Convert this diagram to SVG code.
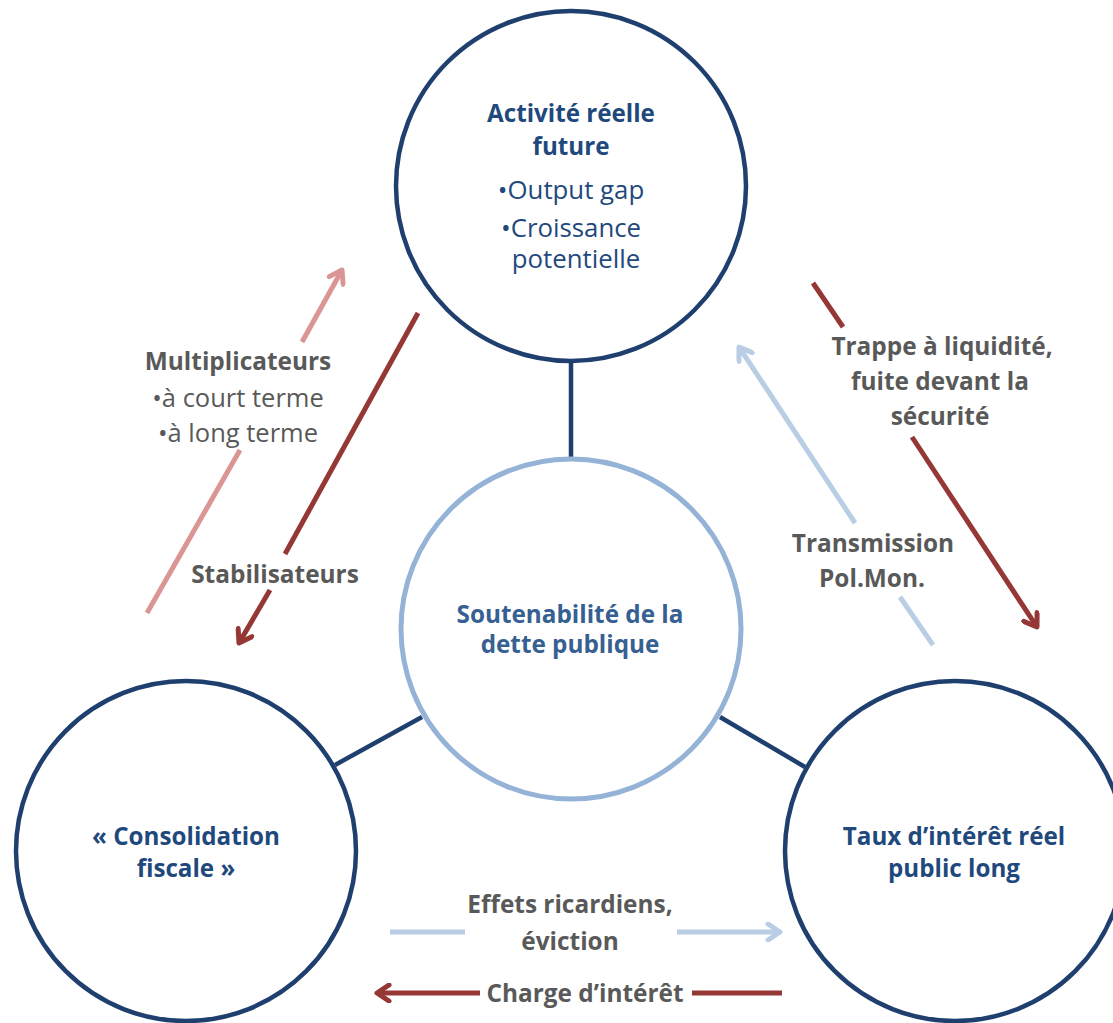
<svg xmlns="http://www.w3.org/2000/svg" width="1113" height="1023" viewBox="0 0 1113 1023">
<style>
.node{fill:#fff;stroke:#1F3F6E;stroke-width:4.5}
.core{fill:#fff;stroke:#95B3D7;stroke-width:5}
.link{stroke:#1F3F6E;stroke-width:4.5;fill:none}
.red{stroke:#953735;stroke-width:5;fill:none}
.pink{stroke:#DA9694;stroke-width:5;fill:none}
.blue{stroke:#B9CDE5;stroke-width:5;fill:none}
text{font-family:"Open Sans","Noto Sans","Liberation Sans",sans-serif;text-anchor:middle}
.t{font-weight:bold;font-size:24.2px;fill:#1F497D}
.tr{font-size:25.8px;fill:#1F497D}
.c{font-weight:bold;font-size:24.3px;fill:#376092}
.g{font-weight:bold;font-size:24.4px;fill:#595959}
.gr{font-size:25.5px;fill:#595959}
</style>
<defs>
<marker id="mr" viewBox="0 0 20 20" refX="17" refY="10" markerWidth="20" markerHeight="20" markerUnits="userSpaceOnUse" orient="auto"><path d="M5,2 L17,10 L5,18" fill="none" stroke="#953735" stroke-width="5" stroke-linecap="round" stroke-linejoin="round"/></marker>
<marker id="mp" viewBox="0 0 20 20" refX="17" refY="10" markerWidth="20" markerHeight="20" markerUnits="userSpaceOnUse" orient="auto"><path d="M5,2 L17,10 L5,18" fill="none" stroke="#DA9694" stroke-width="5" stroke-linecap="round" stroke-linejoin="round"/></marker>
<marker id="mb" viewBox="0 0 20 20" refX="17" refY="10" markerWidth="20" markerHeight="20" markerUnits="userSpaceOnUse" orient="auto"><path d="M5,2 L17,10 L5,18" fill="none" stroke="#B9CDE5" stroke-width="5" stroke-linecap="round" stroke-linejoin="round"/></marker>
</defs>
<g id="connectors">
<line class="link" x1="571" y1="361" x2="571" y2="460"/>
<line class="link" x1="335" y1="765" x2="422" y2="717"/>
<line class="link" x1="720" y1="717" x2="805" y2="767"/>
<line class="pink" x1="147" y1="613" x2="240" y2="450"/>
<line class="pink" x1="302" y1="342" x2="342" y2="270" marker-end="url(#mp)"/>
<line class="red" x1="418" y1="313" x2="285" y2="554"/>
<line class="red" x1="270" y1="590" x2="239" y2="643" marker-end="url(#mr)"/>
<line class="red" x1="813" y1="283" x2="843" y2="327"/>
<line class="red" x1="912" y1="437" x2="1037" y2="627" marker-end="url(#mr)"/>
<line class="blue" x1="933" y1="645" x2="900" y2="597"/>
<line class="blue" x1="855" y1="523" x2="739" y2="347" marker-end="url(#mb)"/>
<line class="blue" x1="390" y1="932" x2="465" y2="932"/>
<line class="blue" x1="677" y1="932" x2="780" y2="932" marker-end="url(#mb)"/>
<line class="red" x1="782" y1="993" x2="692" y2="993"/>
<line class="red" x1="480" y1="993" x2="377" y2="993" marker-end="url(#mr)"/>
</g>
<g id="node-activite">
<circle class="node" cx="571" cy="186" r="175"/>
<text class="t" x="571" y="122">Activité réelle</text>
<text class="t" x="571" y="155">future</text>
<text class="tr" x="571" y="199">•Output gap</text>
<text class="tr" x="571" y="237">•Croissance</text>
<text class="tr" x="576" y="268">potentielle</text>
</g>
<g id="node-soutenabilite">
<circle class="core" cx="571" cy="629" r="170"/>
<text class="c" x="570" y="623">Soutenabilité de la</text>
<text class="c" x="570" y="653">dette publique</text>
</g>
<g id="node-consolidation">
<circle class="node" cx="186" cy="851" r="170"/>
<text class="t" x="186" y="845">« Consolidation</text>
<text class="t" x="186" y="877">fiscale »</text>
</g>
<g id="node-taux">
<circle class="node" cx="955" cy="851" r="170"/>
<text class="t" x="954" y="845">Taux d’intérêt réel</text>
<text class="t" x="954" y="877">public long</text>
</g>
<g id="labels">
<text class="g" x="238" y="370">Multiplicateurs</text>
<text class="gr" x="238" y="407">•à court terme</text>
<text class="gr" x="238" y="442">•à long terme</text>
<text class="g" x="275" y="583">Stabilisateurs</text>
<text class="g" x="942" y="355">Trappe à liquidité,</text>
<text class="g" x="940" y="390">fuite devant la</text>
<text class="g" x="940" y="425">sécurité</text>
<text class="g" x="873" y="552">Transmission</text>
<text class="g" x="872" y="587">Pol.Mon.</text>
<text class="g" x="570" y="913">Effets ricardiens,</text>
<text class="g" x="570" y="950">éviction</text>
<text class="g" x="585" y="1002">Charge d’intérêt</text>
</g>
</svg>
